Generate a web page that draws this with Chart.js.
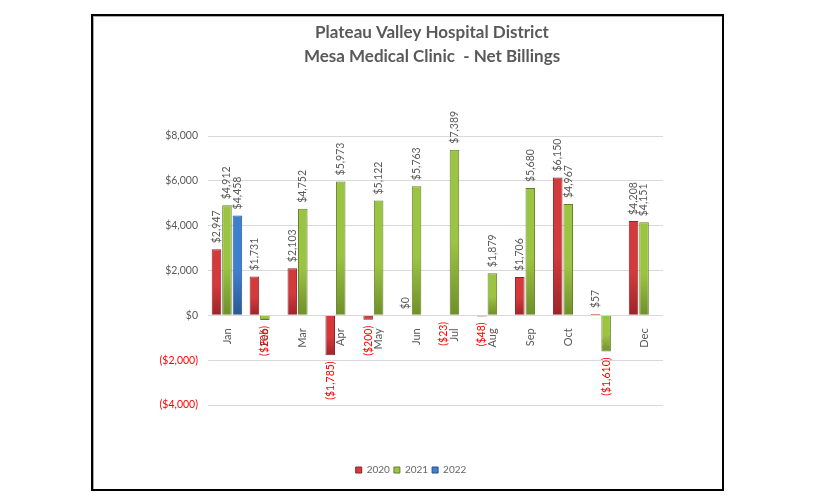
<!DOCTYPE html>
<html>
<head>
<meta charset="utf-8">
<script src="https://cdn.jsdelivr.net/npm/chart.js@4/dist/chart.umd.min.js"></script>
<style>
  html, body { margin: 0; padding: 0; background: #fff; }
  #wrap { position: relative; width: 816px; height: 504px; overflow: hidden; }
  #c { position: absolute; left: 0; top: 0; }
  #frame { position: absolute; left: 91px; top: 14px; width: 633px; height: 477px;
           box-sizing: border-box; border: 2px solid #000; pointer-events: none;
           box-shadow: inset 1px 1px 0 #aaa; }
</style>
</head>
<body>
<div id="wrap">
  <canvas id="c" width="816" height="504"></canvas>
  <div id="frame"></div>
</div>
<script>
// ---- data ----
const TITLE_LINES = ['Plateau Valley Hospital District', 'Mesa Medical Clinic  - Net Billings'];
const MONTHS = ['Jan','Feb','Mar','Apr','May','Jun','Jul','Aug','Sep','Oct','Nov','Dec'];
const SERIES_NAMES = ['2020','2021','2022'];
const VALUES_2020 = [2947, 1731, 2103, -1785, -200, 0, -23, -48, 1706, 6150, 57, 4208];
const VALUES_2021 = [4912, -206, 4752, 5973, 5122, 5763, 7389, 1879, 5680, 4967, -1610, 4151];
const VALUES_2022 = [4458, null, null, null, null, null, null, null, null, null, null, null];
const Y_MIN = -4000, Y_MAX = 8000, Y_STEP = 2000;

// ---- styles ----
const LIGHT = ['#D4393C', '#9CC443', '#3F7FCF'];
const DARK  = ['#9C2429', '#6F8F2B', '#2A5893'];
const BORDER = ['#8E2226', '#647F28', '#27508A'];
const GRAY_TXT = '#595959';
const NEG_TXT = '#FF0000';
const FONT = 'Lato, "Open Sans", sans-serif';

function money(v) {
  const s = '$' + Math.abs(v).toLocaleString('en-US');
  return v < 0 ? '(' + s + ')' : s;
}

function barFill(i) {
  return (ctx) => {
    const chart = ctx.chart;
    if (!chart.chartArea || ctx.type !== 'data') return LIGHT[i];
    const v = ctx.raw;
    if (v == null) return LIGHT[i];
    const ys = chart.scales.y;
    const a = ys.getPixelForValue(0), b = ys.getPixelForValue(v);
    const top = Math.min(a, b), bot = Math.max(a, b);
    if (bot - top < 1) return LIGHT[i];
    const g = chart.ctx.createLinearGradient(0, top, 0, bot);
    g.addColorStop(0, LIGHT[i]);
    g.addColorStop(0.55, LIGHT[i]);
    g.addColorStop(1, DARK[i]);
    return g;
  };
}

const dataLabels = {
  id: 'dataLabels',
  afterDatasetsDraw(chart) {
    const c = chart.ctx;
    c.save();
    c.font = '10.5px ' + FONT;
    c.textBaseline = 'middle';
    chart.data.datasets.forEach((ds, di) => {
      const meta = chart.getDatasetMeta(di);
      meta.data.forEach((el, idx) => {
        const v = ds.data[idx];
        if (v == null) return;
        c.save();
        if (v >= 0) {
          c.translate(el.x, el.y - 6);
          c.rotate(-Math.PI / 2);
          c.textAlign = 'left';
          c.fillStyle = GRAY_TXT;
        } else {
          c.translate(el.x, el.y + 6);
          c.rotate(-Math.PI / 2);
          c.textAlign = 'right';
          c.fillStyle = NEG_TXT;
        }
        c.fillText(money(v), 0, 0);
        c.restore();
      });
    });
    c.restore();
  }
};

const titlePlugin = {
  id: 'twoLineTitle',
  afterDraw(chart) {
    const c = chart.ctx;
    c.save();
    c.font = 'bold 17px ' + FONT;
    c.fillStyle = GRAY_TXT;
    c.textAlign = 'center';
    c.textBaseline = 'middle';
    c.fillText(TITLE_LINES[0], 432, 33);
    c.fillText(TITLE_LINES[1], 432, 57);
    c.restore();
  }
};

const bgPlugin = {
  id: 'bg',
  beforeDraw(chart) {
    const c = chart.ctx;
    c.save();
    c.fillStyle = '#fff';
    c.fillRect(0, 0, chart.width, chart.height);
    c.restore();
  }
};

const seriesData = [VALUES_2020, VALUES_2021, VALUES_2022];

new Chart(document.getElementById('c'), {
  type: 'bar',
  data: {
    labels: MONTHS,
    datasets: seriesData.map((d, i) => ({
      label: SERIES_NAMES[i],
      data: d,
      backgroundColor: barFill(i),
      borderColor: BORDER[i],
      borderWidth: 1,
      categoryPercentage: 0.83,
      barPercentage: 0.91
    }))
  },
  options: {
    responsive: false,
    animation: false,
    devicePixelRatio: 1,
    layout: { padding: { top: 136, left: 159, right: 153, bottom: 19 } },
    scales: {
      x: {
        type: 'category',
        position: { y: 0 },
        z: 1,
        grid: { display: false },
        border: { display: false },
        ticks: {
          minRotation: 90, maxRotation: 90, autoSkip: false, padding: 5,
          color: GRAY_TXT, font: { family: FONT, size: 11 }
        }
      },
      y: {
        min: Y_MIN, max: Y_MAX,
        afterFit(scale) { scale.width = 49; },
        grid: { color: '#D9D9D9', drawTicks: false, lineWidth: 1 },
        border: { display: false },
        ticks: {
          stepSize: Y_STEP, padding: 10,
          font: { family: FONT, size: 10.5 },
          color: (ctx) => (ctx.tick && ctx.tick.value < 0 ? NEG_TXT : GRAY_TXT),
          callback: (v) => money(v)
        }
      }
    },
    plugins: {
      title: { display: false },
      tooltip: { enabled: false },
      legend: {
        display: true,
        position: 'bottom',
        title: { display: true, text: '', padding: { top: 45, bottom: 0 }, font: { size: 11, lineHeight: 1 } },
        labels: {
          boxWidth: 6, boxHeight: 6, padding: 4,
          color: GRAY_TXT, font: { family: FONT, size: 10 },
          generateLabels: (chart) => SERIES_NAMES.map((n, i) => ({
            text: n, fillStyle: LIGHT[i], strokeStyle: BORDER[i], lineWidth: 1,
            hidden: false, datasetIndex: i
          }))
        }
      }
    }
  },
  plugins: [bgPlugin, dataLabels, titlePlugin]
});
</script>
</body>
</html>
